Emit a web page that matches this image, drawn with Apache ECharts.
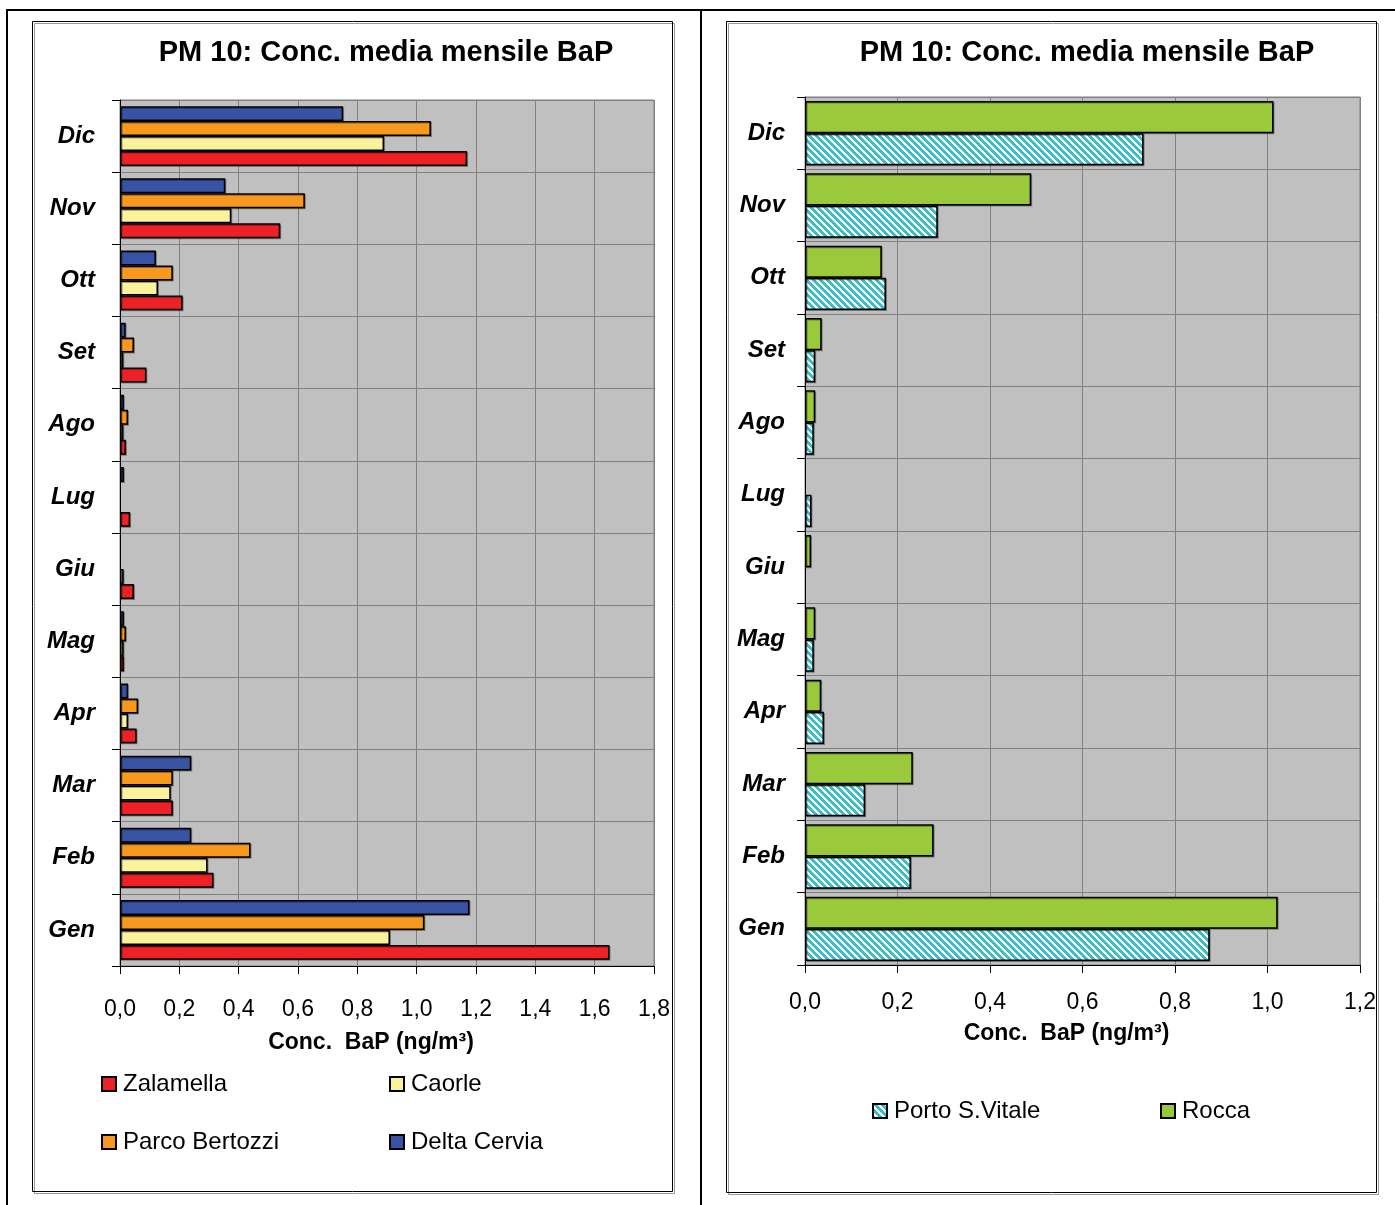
<!DOCTYPE html>
<html><head><meta charset="utf-8">
<script src="https://cdn.jsdelivr.net/npm/echarts@6/dist/echarts.min.js"></script>
<style>html,body{margin:0;padding:0;background:#fff}#c{width:1395px;height:1205px}</style>
</head><body><div id="c"></div>
<script>
// ---- data ----
const months = ['Gen','Feb','Mar','Apr','Mag','Giu','Lug','Ago','Set','Ott','Nov','Dic'];
const zalamella     = [1.65, 0.315, 0.178, 0.056, 0.013, 0.047, 0.034, 0.020, 0.089, 0.211, 0.540, 1.170];
const caorle        = [0.91, 0.295, 0.171, 0.027, 0.012, 0.012, null,  0.011, 0.011, 0.128, 0.375, 0.890];
const parcoBertozzi = [1.026,0.440, 0.178, 0.061, 0.020, null,  null,  0.027, 0.047, 0.178, 0.623, 1.048];
const deltaCervia   = [1.178,0.240, 0.240, 0.027, 0.013, null,  0.013, 0.013, 0.019, 0.121, 0.355, 0.752];
const portoSVitale  = [0.875,0.229, 0.130, 0.041, 0.019, null,  0.014, 0.019, 0.022, 0.175, 0.287, 0.732];
const rocca         = [1.022,0.278, 0.233, 0.035, 0.022, 0.013, null,  0.022, 0.036, 0.166, 0.489, 1.013];
const leftAxisMax = 1.8, rightAxisMax = 1.2, tickStep = 0.2;
const titleText = 'PM 10: Conc. media mensile BaP';

// ---- styles ----
const FONT = 'Liberation Sans, Arial, sans-serif';
function hatch() {
  const n = 7, cv = document.createElement('canvas');
  cv.width = n; cv.height = n;
  const ctx = cv.getContext('2d');
  ctx.fillStyle = '#ffffff'; ctx.fillRect(0,0,n,n);
  ctx.fillStyle = '#3dbfc8';
  for (let x = 0; x < n; x++) for (let y = 0; y < n; y++) {
    if (((x - y) % n + n) % n < 4) ctx.fillRect(x, y, 1, 1);
  }
  return {image: cv, repeat: 'repeat'};
}
const hatchColor = hatch();
const fmt = v => v.toFixed(1).replace('.', ',');
const bs = (c) => ({color: c, borderColor: '#000', borderWidth: 1.5,
  shadowColor: 'rgba(0,0,0,0.35)', shadowOffsetX: 1, shadowOffsetY: 1});

function xAxisCfg(grid, max, margin, gap) {
  return {gridIndex: grid, type: 'value', min: 0, max: max, interval: tickStep,
    axisLine: {show: true, lineStyle: {color: '#000', width: 1}},
    axisTick: {show: true, length: 8, lineStyle: {color: '#000'}},
    axisLabel: {formatter: fmt, color: '#000', fontFamily: FONT, fontSize: 23, margin: margin},
    splitLine: {show: true, lineStyle: {color: '#808080', width: 1}},
    name: 'Conc.  BaP (ng/m³)', nameLocation: 'middle', nameGap: gap,
    nameTextStyle: {color: '#000', fontFamily: FONT, fontWeight: 'bold', fontSize: 23, padding: [0, 32, 0, 0]}};
}
function yAxisCfg(grid, margin) {
  return {gridIndex: grid, type: 'category', data: months,
    axisLine: {show: true, lineStyle: {color: '#000', width: 1}},
    axisTick: {show: true, length: 8, lineStyle: {color: '#000'}},
    axisLabel: {color: '#000', fontFamily: FONT, fontSize: 24, fontWeight: 'bold', fontStyle: 'italic', margin: margin, padding: [10,0,0,0]},
    splitLine: {show: true, lineStyle: {color: '#808080', width: 1}}};
}
function legendAt(name, left, top) {
  return {data: [name], left: left, top: top, padding: 0, icon: 'rect', itemWidth: 14, itemHeight: 14, itemGap: 6,
    textStyle: {color: '#000', fontFamily: FONT, fontSize: 24, padding: [0,0,0,2]}, selectedMode: false};
}
function boxRect(x, y, w, h) {
  return [
    {type: 'rect', shape: {x: x+2, y: y+2, width: w, height: h}, style: {fill: null, stroke: '#999', lineWidth: 1}, z: -1},
    {type: 'rect', shape: {x: x, y: y, width: w, height: h}, style: {fill: null, stroke: '#000', lineWidth: 1}, z: -1}
  ];
}
const gapL = {barGap: '0%', barCategoryGap: '17%'};
const gapR = {barGap: '0%', barCategoryGap: '11%'};

const option = {
  animation: false,
  backgroundColor: '#fff',
  title: [
    {text: titleText, left: 381, top: 33, textAlign: 'center',
      textStyle: {fontFamily: FONT, fontSize: 29, fontWeight: 'bold', color: '#000'}},
    {text: titleText, left: 1082, top: 33, textAlign: 'center',
      textStyle: {fontFamily: FONT, fontSize: 29, fontWeight: 'bold', color: '#000'}}
  ],
  grid: [
    {left: 120, top: 100, width: 534, height: 866, show: true, backgroundColor: '#c0c0c0', borderColor: '#808080', borderWidth: 1},
    {left: 805, top: 97, width: 555, height: 868, show: true, backgroundColor: '#c0c0c0', borderColor: '#808080', borderWidth: 1}
  ],
  xAxis: [xAxisCfg(0, leftAxisMax, 32, 65), xAxisCfg(1, rightAxisMax, 26, 57)],
  yAxis: [yAxisCfg(0, 25), yAxisCfg(1, 20)],
  legend: [
    legendAt('Zalamella', 101, 1072),
    legendAt('Caorle', 389, 1072),
    legendAt('Parco Bertozzi', 101, 1130),
    legendAt('Delta Cervia', 389, 1130),
    legendAt('Porto S.Vitale', 872, 1099),
    legendAt('Rocca', 1160, 1099)
  ],
  // ECharts places the first series at the top of each band, so list them top-down
  series: [
    Object.assign({name: 'Delta Cervia', type: 'bar', xAxisIndex: 0, yAxisIndex: 0, data: deltaCervia, itemStyle: bs('#3853a4')}, gapL),
    Object.assign({name: 'Parco Bertozzi', type: 'bar', xAxisIndex: 0, yAxisIndex: 0, data: parcoBertozzi, itemStyle: bs('#f8991f')}, gapL),
    Object.assign({name: 'Caorle', type: 'bar', xAxisIndex: 0, yAxisIndex: 0, data: caorle, itemStyle: bs('#fbf39b')}, gapL),
    Object.assign({name: 'Zalamella', type: 'bar', xAxisIndex: 0, yAxisIndex: 0, data: zalamella, itemStyle: bs('#ee2226')}, gapL),
    Object.assign({name: 'Rocca', type: 'bar', xAxisIndex: 1, yAxisIndex: 1, data: rocca, itemStyle: bs('#9aca3c')}, gapR),
    Object.assign({name: 'Porto S.Vitale', type: 'bar', xAxisIndex: 1, yAxisIndex: 1, data: portoSVitale, itemStyle: bs(hatchColor)}, gapR)
  ],
  graphic: [
    {type: 'line', shape: {x1: 6, y1: 10, x2: 1395, y2: 10}, style: {stroke: '#000', lineWidth: 2}},
    {type: 'line', shape: {x1: 7, y1: 10, x2: 7, y2: 1205}, style: {stroke: '#000', lineWidth: 2}},
    {type: 'line', shape: {x1: 701, y1: 10, x2: 701, y2: 1205}, style: {stroke: '#000', lineWidth: 2}},
    ...boxRect(32.5, 21.5, 640, 1170),
    ...boxRect(726.5, 21.5, 650, 1171)
  ]
};
const chart = echarts.init(document.getElementById('c'), null, {renderer: 'canvas'});
chart.setOption(option);
</script>
</body></html>
